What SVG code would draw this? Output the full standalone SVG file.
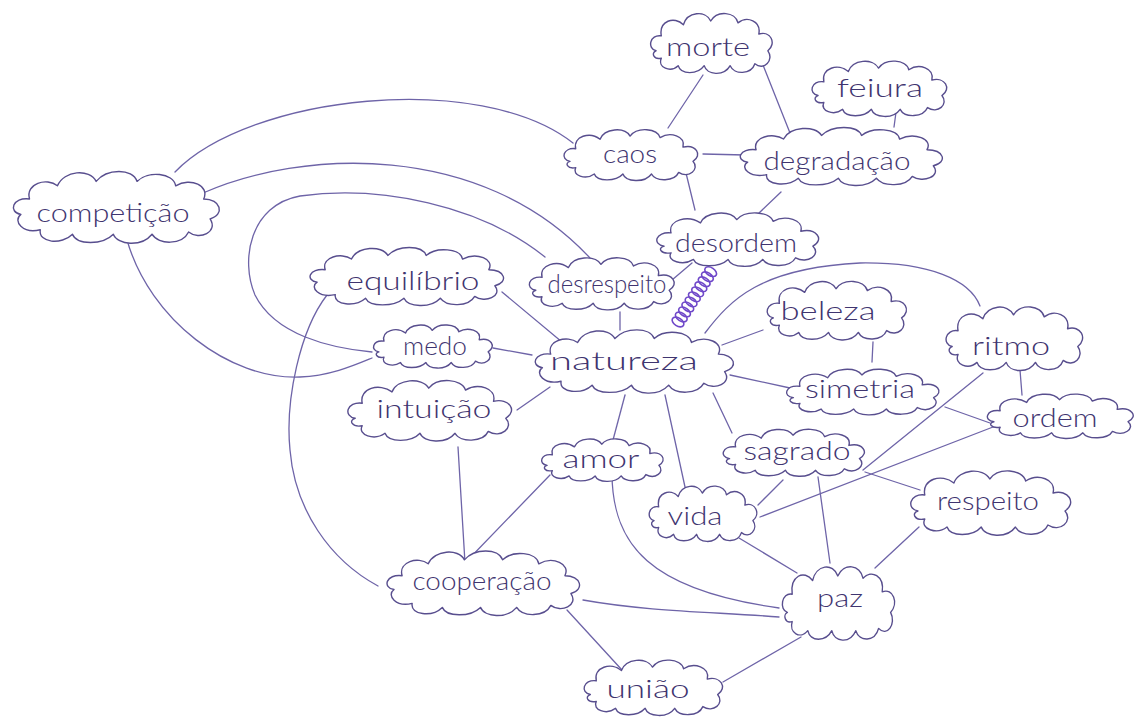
<svg xmlns="http://www.w3.org/2000/svg" xmlns:xlink="http://www.w3.org/1999/xlink" width="1139" height="717" viewBox="0 0 1139 717">
  <style>
    .edge { fill: none; stroke: #6e64a8; stroke-width: 1.3; stroke-linecap: round; }
    .cloud { fill: #ffffff; stroke: #584e8e; stroke-width: 1.4; stroke-linejoin: round; }
    .label { font-family: Lato, "Open Sans", "Liberation Sans", sans-serif; font-weight: 300; font-size: 26px; fill: #3f3570; text-anchor: middle; }
    .coil { fill: none; stroke: #6f48c9; stroke-width: 1.6; }
  </style>
  <defs>
    <!-- unit cloud, 200 x 70 box; strokes stay constant when scaled -->
    <symbol id="cloud" overflow="visible">
      <path class="cloud" vector-effect="non-scaling-stroke" d="M14,46 C0,44 4,28 22,30 C18,14 42,8 56,18 C62,4 90,2 98,14 C108,2 136,4 140,16 C154,8 176,14 172,28 C190,24 200,38 186,46 C196,56 180,68 166,60 C160,72 134,72 128,62 C118,74 92,72 88,62 C78,72 52,72 48,62 C36,70 16,64 22,54 C10,56 6,48 14,46 Z"/>
    </symbol>
    <symbol id="cloud-wide" overflow="visible">
      <path class="cloud" vector-effect="non-scaling-stroke" d="M12,44 C0,42 4,28 20,30 C16,16 36,10 46,18 C52,4 76,2 82,14 C92,2 116,2 120,14 C130,4 154,6 156,18 C170,10 188,18 182,30 C198,30 202,44 188,48 C196,60 178,68 168,60 C162,72 140,72 134,62 C124,74 102,72 98,62 C88,72 64,72 60,62 C50,72 28,70 30,58 C14,62 4,50 12,44 Z"/>
    </symbol>
  </defs>
  <rect width="1139" height="717" fill="#ffffff"/>

  <g id="connectors">
    <path class="edge" d="M703,75 L668,128"/>
    <path class="edge" d="M763,65 L790,133"/>
    <path class="edge" d="M897,105 L894,127"/>
    <path class="edge" d="M703,154 L745,155"/>
    <path class="edge" d="M686,173 L695,210"/>
    <path class="edge" d="M781,192 L759,213"/>
    <path class="edge" d="M175,172 C250,95 480,70 573,143"/>
    <path class="edge" d="M203,193 C300,150 480,140 590,258"/>
    <path class="edge" d="M545,257 C480,205 380,185 300,196 C250,205 240,260 255,295 C275,335 330,348 372,352"/>
    <path class="edge" d="M127,240 C150,320 230,380 300,377 C330,376 355,365 372,358"/>
    <path class="edge" d="M327,295 C300,330 285,400 290,450 C295,510 330,560 378,586"/>
    <path class="edge" d="M502,292 L562,342"/>
    <path class="edge" d="M620,312 L620,330"/>
    <path class="edge" d="M692,263 L672,280"/>
    <path class="edge" d="M493,348 L532,355"/>
    <path class="edge" d="M517,410 L550,387"/>
    <path class="edge" d="M458,447 L465,563"/>
    <path class="edge" d="M550,475 L465,563"/>
    <path class="edge" d="M625,395 L613,440"/>
    <path class="edge" d="M665,395 L685,487"/>
    <path class="edge" d="M713,393 L732,433"/>
    <path class="edge" d="M722,345 L763,330"/>
    <path class="edge" d="M730,375 L790,388"/>
    <path class="edge" d="M705,333 C730,300 760,268 860,263 C930,262 970,280 980,306"/>
    <path class="edge" d="M873,342 L872,362"/>
    <path class="edge" d="M1020,370 L1022,395"/>
    <path class="edge" d="M945,407 L990,423"/>
    <path class="edge" d="M983,373 L863,470"/>
    <path class="edge" d="M993,427 L760,517"/>
    <path class="edge" d="M865,472 L920,490"/>
    <path class="edge" d="M783,480 L758,505"/>
    <path class="edge" d="M818,477 L830,563"/>
    <path class="edge" d="M612,473 C612,545 650,590 779,608"/>
    <path class="edge" d="M583,600 C650,612 720,612 779,617"/>
    <path class="edge" d="M739,538 L797,573"/>
    <path class="edge" d="M919,527 L875,568"/>
    <path class="edge" d="M801,637 L723,682"/>
    <path class="edge" d="M567,610 L622,670"/>
    <!-- coiled link between desordem and natureza -->
    <g transform="translate(678,322) rotate(-57)">
      <ellipse class="coil" cx="0" cy="0" rx="4" ry="6.5"/>
      <ellipse class="coil" cx="6" cy="0" rx="4" ry="6.5"/>
      <ellipse class="coil" cx="12" cy="0" rx="4" ry="6.5"/>
      <ellipse class="coil" cx="18" cy="0" rx="4" ry="6.5"/>
      <ellipse class="coil" cx="24" cy="0" rx="4" ry="6.5"/>
      <ellipse class="coil" cx="30" cy="0" rx="4" ry="6.5"/>
      <ellipse class="coil" cx="36" cy="0" rx="4" ry="6.5"/>
      <ellipse class="coil" cx="42" cy="0" rx="4" ry="6.5"/>
      <ellipse class="coil" cx="48" cy="0" rx="4" ry="6.5"/>
      <ellipse class="coil" cx="54" cy="0" rx="4" ry="6.5"/>
      <ellipse class="coil" cx="60" cy="0" rx="4" ry="6.5"/>
    </g>
  </g>

  <g id="node-morte">
    <use xlink:href="#cloud" transform="translate(647,8) scale(0.65,0.93)"/>
    <text class="label" x="708" y="56" textLength="84" lengthAdjust="spacingAndGlyphs">morte</text>
  </g>
  <g id="node-feiura">
    <use xlink:href="#cloud" transform="translate(808,56) scale(0.72,0.86)"/>
    <text class="label" x="880" y="97" textLength="86" lengthAdjust="spacingAndGlyphs">feiura</text>
  </g>
  <g id="node-caos">
    <use xlink:href="#cloud" transform="translate(560,125) scale(0.715,0.79)"/>
    <text class="label" x="630" y="163" textLength="54" lengthAdjust="spacingAndGlyphs">caos</text>
  </g>
  <g id="node-degradacao">
    <use xlink:href="#cloud-wide" transform="translate(735,123) scale(1.055,0.89)"/>
    <text class="label" x="837" y="170" textLength="147" lengthAdjust="spacingAndGlyphs">degradação</text>
  </g>
  <g id="node-desordem">
    <use xlink:href="#cloud" transform="translate(652,208) scale(0.865,0.83)"/>
    <text class="label" x="736" y="252" textLength="122" lengthAdjust="spacingAndGlyphs">desordem</text>
  </g>
  <g id="node-competicao">
    <use xlink:href="#cloud-wide" transform="translate(8,166) scale(1.075,1.1)"/>
    <text class="label" x="113" y="222" textLength="153" lengthAdjust="spacingAndGlyphs">competição</text>
  </g>
  <g id="node-equilibrio">
    <use xlink:href="#cloud-wide" transform="translate(305,243) scale(1.01,0.89)"/>
    <text class="label" x="413" y="290" textLength="133" lengthAdjust="spacingAndGlyphs">equilíbrio</text>
  </g>
  <g id="node-desrespeito">
    <use xlink:href="#cloud" transform="translate(525,253) scale(0.775,0.81)"/>
    <text class="label" x="607" y="293" textLength="119" lengthAdjust="spacingAndGlyphs">desrespeito</text>
  </g>
  <g id="node-medo">
    <use xlink:href="#cloud" transform="translate(370,321) scale(0.635,0.67)"/>
    <text class="label" x="435" y="355" textLength="64" lengthAdjust="spacingAndGlyphs">medo</text>
  </g>
  <g id="node-natureza">
    <use xlink:href="#cloud-wide" transform="translate(530,325) scale(1.035,0.97)"/>
    <text class="label" x="624" y="370" textLength="148" lengthAdjust="spacingAndGlyphs">natureza</text>
  </g>
  <g id="node-intuicao">
    <use xlink:href="#cloud" transform="translate(343,375) scale(0.875,0.94)"/>
    <text class="label" x="434" y="418" textLength="115" lengthAdjust="spacingAndGlyphs">intuição</text>
  </g>
  <g id="node-amor">
    <use xlink:href="#cloud" transform="translate(538,435) scale(0.65,0.66)"/>
    <text class="label" x="601" y="468" textLength="77" lengthAdjust="spacingAndGlyphs">amor</text>
  </g>
  <g id="node-beleza">
    <use xlink:href="#cloud" transform="translate(763,276) scale(0.745,0.91)"/>
    <text class="label" x="828" y="320" textLength="95" lengthAdjust="spacingAndGlyphs">beleza</text>
  </g>
  <g id="node-ritmo">
    <use xlink:href="#cloud" transform="translate(942,301) scale(0.73,0.99)"/>
    <text class="label" x="1011" y="355" textLength="78" lengthAdjust="spacingAndGlyphs">ritmo</text>
  </g>
  <g id="node-simetria">
    <use xlink:href="#cloud" transform="translate(782,365) scale(0.815,0.71)"/>
    <text class="label" x="860" y="398" textLength="110" lengthAdjust="spacingAndGlyphs">simetria</text>
  </g>
  <g id="node-ordem">
    <use xlink:href="#cloud" transform="translate(983,390) scale(0.78,0.69)"/>
    <text class="label" x="1055" y="427" textLength="85" lengthAdjust="spacingAndGlyphs">ordem</text>
  </g>
  <g id="node-sagrado">
    <use xlink:href="#cloud" transform="translate(719,425) scale(0.755,0.73)"/>
    <text class="label" x="797" y="460" textLength="107" lengthAdjust="spacingAndGlyphs">sagrado</text>
  </g>
  <g id="node-vida">
    <use xlink:href="#cloud" transform="translate(646,481) scale(0.575,0.86)"/>
    <text class="label" x="695" y="525" textLength="55" lengthAdjust="spacingAndGlyphs">vida</text>
  </g>
  <g id="node-respeito">
    <use xlink:href="#cloud" transform="translate(906,465) scale(0.855,1.0)"/>
    <text class="label" x="988" y="510" textLength="102" lengthAdjust="spacingAndGlyphs">respeito</text>
  </g>
  <g id="node-paz">
    <use xlink:href="#cloud" transform="translate(779,560) scale(0.6,1.14)"/>
    <text class="label" x="840" y="607" textLength="46" lengthAdjust="spacingAndGlyphs">paz</text>
  </g>
  <g id="node-uniao">
    <use xlink:href="#cloud" transform="translate(580,655) scale(0.74,0.86)"/>
    <text class="label" x="648" y="698" textLength="83" lengthAdjust="spacingAndGlyphs">união</text>
  </g>
  <g id="node-cooperacao">
    <use xlink:href="#cloud-wide" transform="translate(382,546) scale(1.005,0.99)"/>
    <text class="label" x="482" y="590" textLength="139" lengthAdjust="spacingAndGlyphs">cooperação</text>
  </g>
</svg>
